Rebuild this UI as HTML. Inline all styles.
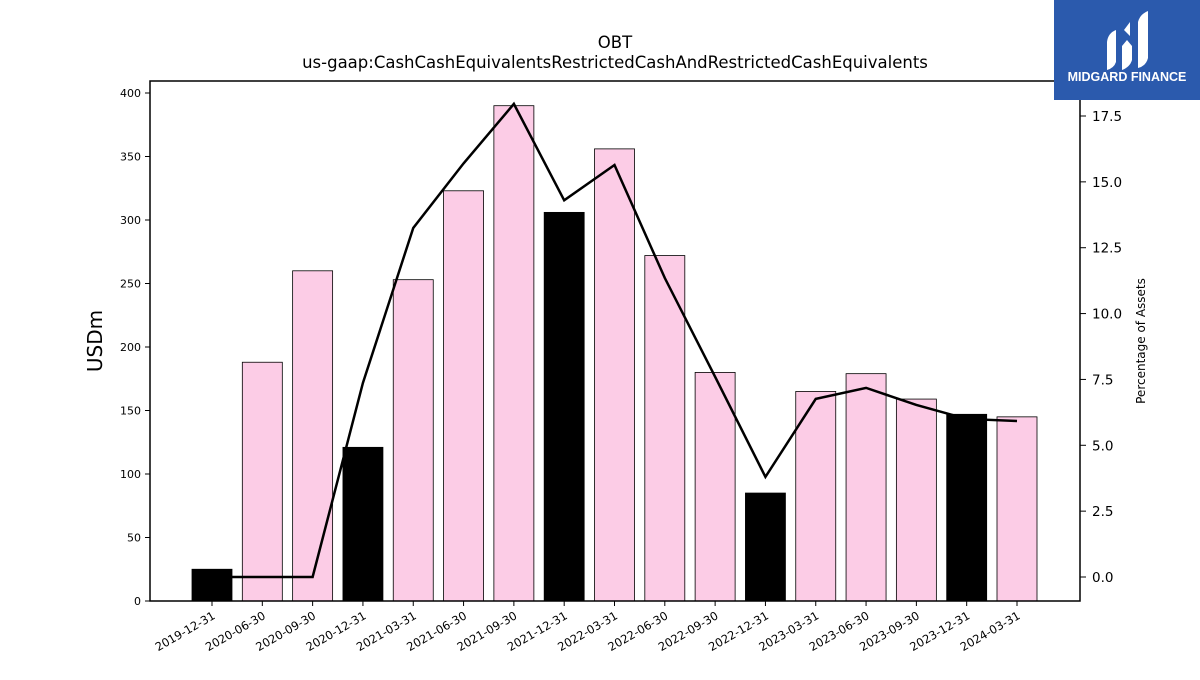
<!DOCTYPE html>
<html><head><meta charset="utf-8"><style>
body{margin:0;background:#fff;font-family:"Liberation Sans","DejaVu Sans",sans-serif}
</style></head><body>
<svg width="1200" height="675" xmlns="http://www.w3.org/2000/svg" font-family="DejaVu Sans, Liberation Sans, sans-serif">
<g id="bars"></g>
<g id="line"></g>
<g id="axes"></g>
<text x="615" y="48" text-anchor="middle" font-size="16.5">OBT</text>
<text x="615" y="68" text-anchor="middle" font-size="16.5">us-gaap:CashCashEquivalentsRestrictedCashAndRestrictedCashEquivalents</text>
<text transform="translate(102,341) rotate(-90)" text-anchor="middle" font-size="20">USDm</text>
<text transform="translate(1145,341) rotate(-90)" text-anchor="middle" font-size="12">Percentage of Assets</text>
<g>
<rect x="1054" y="0" width="146" height="100" fill="#2b5aad"/>
<path d="M1107 70 L1107 42 Q1108 33 1116 30 L1116 62 Q1114 68 1107 70Z" fill="#fff"/>
<path d="M1122 70 L1122 46 L1127 40 L1132 46 L1132 60 Q1130 67 1122 70Z M1124 30 L1130 22 L1130 36 Z" fill="#fff"/>
<path d="M1138 68 L1138 22 Q1140 14 1148 11 L1148 58 Q1146 66 1138 68Z" fill="#fff"/>
<text x="1127" y="81" text-anchor="middle" font-size="12.5" font-weight="bold" fill="#fff" font-family="Liberation Sans, sans-serif">MIDGARD FINANCE</text>
</g>
</svg>
<script>
const categories=["2019-12-31","2020-06-30","2020-09-30","2020-12-31","2021-03-31","2021-06-30","2021-09-30","2021-12-31","2022-03-31","2022-06-30","2022-09-30","2022-12-31","2023-03-31","2023-06-30","2023-09-30","2023-12-31","2024-03-31"];
const usdValues=[25,188,260,121,253,323,390,306,356,272,180,85,165,179,159,147,145];
const pctValues=[0,0,0,7.37,13.25,15.7,17.96,14.3,15.64,11.35,7.6,3.8,6.76,7.18,6.53,6.0,5.92];
const leftTicks=[0,50,100,150,200,250,300,350,400];
const rightTicks=[0,2.5,5,7.5,10,12.5,15,17.5];
const NS="http://www.w3.org/2000/svg";
const X0=150,X1=1080,Y0=81,Y1=601;
const xc=i=>212+i*((1017-212)/(categories.length-1));
const yL=v=>601-v*(508/400);
const yR=v=>577-v*(461/17.5);
function mk(t,a,p){const e=document.createElementNS(NS,t);for(const k in a)e.setAttribute(k,a[k]);p.appendChild(e);return e;}
const bars=document.getElementById('bars'),line=document.getElementById('line'),axes=document.getElementById('axes');
usdValues.forEach((v,i)=>{
  const black=categories[i].endsWith("12-31");
  const r=mk('rect',{x:xc(i)-20,y:yL(v),width:40,height:yL(0)-yL(v),fill:black?'#000':'#fccce6',stroke:'#000','stroke-width':0.8},bars);
  
  
});
const pl=mk('polyline',{points:pctValues.map((v,i)=>xc(i)+','+yR(v)).join(' '),fill:'none',stroke:'#000','stroke-width':2.5},line);


mk('rect',{x:X0,y:Y0,width:X1-X0,height:Y1-Y0,fill:'none',stroke:'#000','stroke-width':1.5},axes);
leftTicks.forEach(t=>{const y=yL(t);mk('line',{x1:X0-5,x2:X0,y1:y,y2:y,stroke:'#000'},axes);
  const tx=mk('text',{x:X0-9,y:y+4,'text-anchor':'end','font-size':11},axes);tx.textContent=t;
  
  });
rightTicks.forEach(t=>{const y=yR(t);mk('line',{x1:X1,x2:X1+6,y1:y,y2:y,stroke:'#000'},axes);
  const tx=mk('text',{x:X1+12,y:y+5,'font-size':13.5},axes);tx.textContent=t.toFixed(1);
  
  });
categories.forEach((c,i)=>{const x=xc(i);mk('line',{x1:x,x2:x,y1:Y1,y2:Y1+5,stroke:'#000'},axes);
  const tx=mk('text',{transform:`translate(${x+4},${Y1+17}) rotate(-30)`,'text-anchor':'end','font-size':11.5},axes);tx.textContent=c;
  
  });
</script>
</body></html>
